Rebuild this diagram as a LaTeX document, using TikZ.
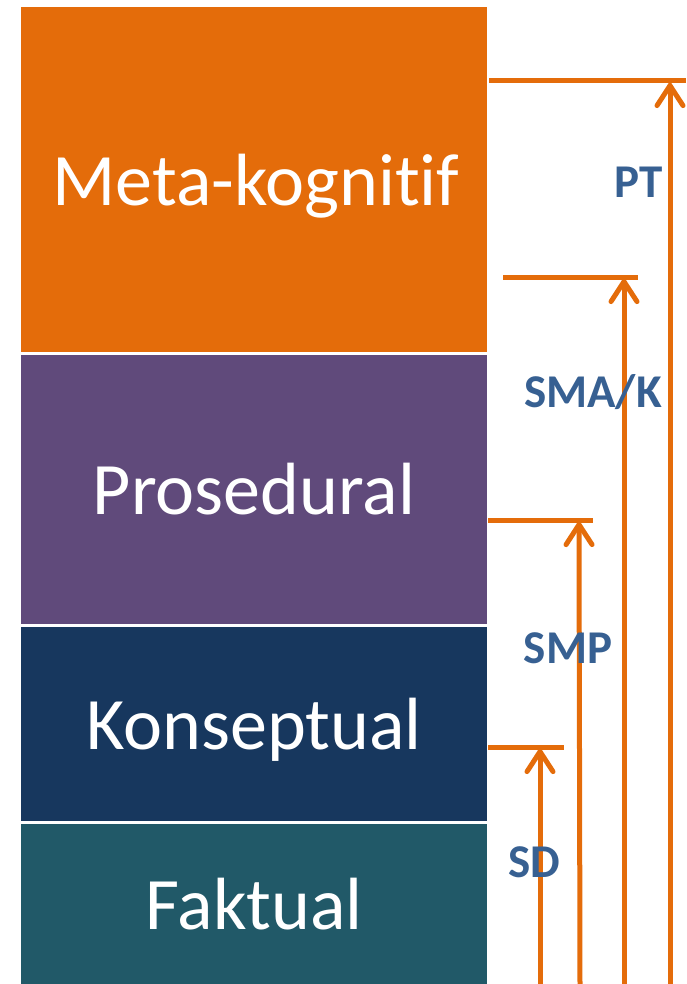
\documentclass[tikz,border=0pt]{standalone}
\usepackage{fontspec}
\setmainfont{Carlito}[Ligatures=NoCommon]
\usetikzlibrary{arrows.meta}
\definecolor{cOrange}{HTML}{E46C0A}
\definecolor{cPurple}{HTML}{604A7B}
\definecolor{cNavy}{HTML}{17375E}
\definecolor{cTeal}{HTML}{215968}
\definecolor{cLabel}{HTML}{376092}
\tikzset{
  level/.style={rectangle, inner sep=0pt, minimum width=466pt, text=white,
    text height=47.6pt, text depth=0pt,
    font=\fontsize{74}{80}\selectfont},
  grade/.style={text=cLabel, inner sep=0pt, text height=30.5pt, text depth=0pt,
    font=\fontsize{47}{50}\selectfont\bfseries},
  bar/.style={draw=cOrange, line width=5pt},
  rise/.style={draw=cOrange, line width=5pt,
    -{Straight Barb[length=20pt, width=26pt, line width=5pt, line cap=round]}}
}
\begin{document}
\begin{tikzpicture}[x=1pt, y=-1pt]
\useasboundingbox (0,0) rectangle (687,984);
% levels
\node[level, fill=cOrange, minimum height=345pt] (meta) at (254,179.5) {};
\node[level, fill=cPurple, minimum height=269pt] (pros) at (254,489.5) {};
\node[level, fill=cNavy, minimum height=194pt] (kons) at (254,724) {};
\node[level, fill=cTeal, minimum height=160pt] (fakt) at (254,904) {};
\node[level] (metaT) at (256,181.5) {Meta-kognitif};
\node[level] (prosT) at (254,491) {Prosedural};
\node[level] (konsT) at (254,725.5) {Konseptual};
\node[level] (faktT) at (254,906) {Faktual};
% horizontal bars
\coordinate (ptL) at (489,81);  \coordinate (ptR) at (686,81);  \coordinate (ptT) at (670,81);
\coordinate (smaL) at (503,277); \coordinate (smaR) at (638,277); \coordinate (smaT) at (624,277);
\coordinate (smpL) at (488,520); \coordinate (smpR) at (593,520); \coordinate (smpT) at (579,520);
\coordinate (sdL) at (488,747);  \coordinate (sdR) at (564,747);  \coordinate (sdT) at (540,747);
\coordinate (ptB) at (670,986);
\coordinate (smaB) at (624,986);
\coordinate (smpB) at (580,986);
\coordinate (sdB) at (540,986);
\draw[bar] (ptL) -- (ptR);
\draw[bar] (smaL) -- (smaR);
\draw[bar] (smpL) -- (smpR);
\draw[bar] (sdL) -- (sdR);
\draw[rise] (ptB) -- (ptT);
\draw[rise] (smaB) -- (smaT);
\draw[rise] (smpB) -- (smpT);
\draw[rise] (sdB) -- (sdT);
% labels
\node[grade] (pt) at (639,182) {PT};
\node[grade] (sma) at (593,392) {SMA/K};
\node[grade] (smp) at (568,648) {SMP};
\node[grade] (sd) at (534,862) {SD};
\end{tikzpicture}
\end{document}
